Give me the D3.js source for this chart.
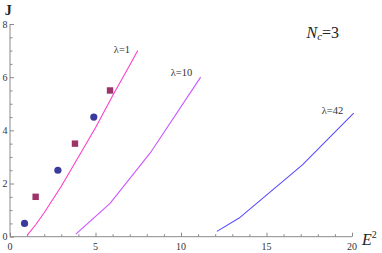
<!DOCTYPE html>
<html><head><meta charset="utf-8">
<script src="https://cdn.jsdelivr.net/npm/d3@7"></script>
<style>body{margin:0;background:#fff}svg{display:block}</style>
</head><body>
<svg id="c" width="382" height="253"></svg>
<script>
const xTicks = [0, 5, 10, 15, 20];
const yTicks = [0, 2, 4, 6, 8];
const lambda1 = [[1.0,0.05],[1.5,0.45],[2,0.9],[3,1.9],[4,3.0],[5,4.1],[6,5.3],[7,6.45],[7.47,7.0]];
const lambda10 = [[3.85,0.1],[5.85,1.25],[8.2,3.15],[11.15,6.0]];
const lambda42 = [[12.1,0.2],[13.4,0.7],[17.1,2.7],[20.1,4.65]];
const circles = [[0.85,0.5],[2.8,2.5],[4.9,4.5]];
const squares = [[1.5,1.5],[3.8,3.5],[5.85,5.5]];
const lineLabels = [{t:"λ=1",x:6.55,y:6.9},{t:"λ=10",x:10.03,y:6.04},{t:"λ=42",x:18.86,y:4.61}];

const svg = d3.select("#c");
const x = d3.scaleLinear().domain([0,20]).range([10,352]);
const y = d3.scaleLinear().domain([0,8]).range([236.7,24]);
const serif = "'Liberation Serif','DejaVu Serif',serif";
const axCol = "#8a8a8a";

// axes with inside ticks
const gx = svg.append("g").attr("transform",`translate(0,${y(0)})`);
gx.call(d3.axisBottom(x).tickValues(d3.range(0,20.01,1)).tickSize(-4).tickFormat(""));
gx.selectAll(".tick line").attr("y2", d => xTicks.includes(d) ? -4 : -2.5);
gx.selectAll("path,line").attr("stroke",axCol);
gx.select(".domain").attr("d",`M${x(0)},0H${x(20)}`);
gx.selectAll(".lbl").data(xTicks).enter().append("text")
  .attr("x",d=>x(d)).attr("y",13.5).attr("text-anchor","middle")
  .attr("font-family",serif).attr("font-size",10).attr("fill","#333").text(d=>d);

const gy = svg.append("g").attr("transform",`translate(${x(0)},0)`);
gy.call(d3.axisLeft(y).tickValues(d3.range(0,8.01,0.5)).tickSize(-4).tickFormat(""));
gy.selectAll(".tick line").attr("x2", d => yTicks.includes(d) ? 4 : 2.5);
gy.selectAll("path,line").attr("stroke",axCol);
gy.select(".domain").attr("d",`M0,${y(0)}V${y(8)}`);
gy.selectAll(".lbl").data(yTicks).enter().append("text")
  .attr("x",-5).attr("y",d=>y(d)+3.5).attr("text-anchor","middle")
  .attr("font-family",serif).attr("font-size",10).attr("fill","#333").text(d=>d);

// lines
const line = d3.line().x(d=>x(d[0])).y(d=>y(d[1]));
[[lambda1,"#ff3fc8"],[lambda10,"#cc55ff"],[lambda42,"#5a4cff"]].forEach(([d,c])=>{
  svg.append("path").datum(d).attr("d",line).attr("fill","none").attr("stroke",c).attr("stroke-width",1.1);
});

// markers
svg.selectAll(".circ").data(circles).enter().append("circle")
  .attr("cx",d=>x(d[0])).attr("cy",d=>y(d[1])).attr("r",3.6).attr("fill","#3b3b9e");
svg.selectAll(".sq").data(squares).enter().append("rect")
  .attr("x",d=>x(d[0])-3.2).attr("y",d=>y(d[1])-3.2).attr("width",6.4).attr("height",6.4).attr("fill","#9c3468");

// line labels
svg.selectAll(".ll").data(lineLabels).enter().append("text")
  .attr("x",d=>x(d.x)).attr("y",d=>y(d.y)).attr("text-anchor","middle")
  .attr("font-family",serif).attr("font-size",10.5).attr("fill","#333").text(d=>d.t);

// axis titles
svg.append("text").attr("x",4.8).attr("y",14.5).attr("font-family",serif).attr("font-weight","bold")
  .attr("font-size",14).attr("fill","#222").text("J");
const e = svg.append("text").attr("x",362).attr("y",244.5).attr("font-family",serif).attr("font-size",16).attr("fill","#222");
e.append("tspan").attr("font-style","italic").text("E");
e.append("tspan").attr("font-size",10).attr("dy",-7).text("2");

// Nc=3
const n = svg.append("text").attr("x",306.5).attr("y",37.5).attr("font-family",serif).attr("font-size",16).attr("fill","#222");
n.append("tspan").attr("font-style","italic").text("N");
n.append("tspan").attr("font-style","italic").attr("font-size",11).attr("dy",2.5).text("c");
n.append("tspan").attr("dy",-2.5).text("=3");
</script>
</body></html>
